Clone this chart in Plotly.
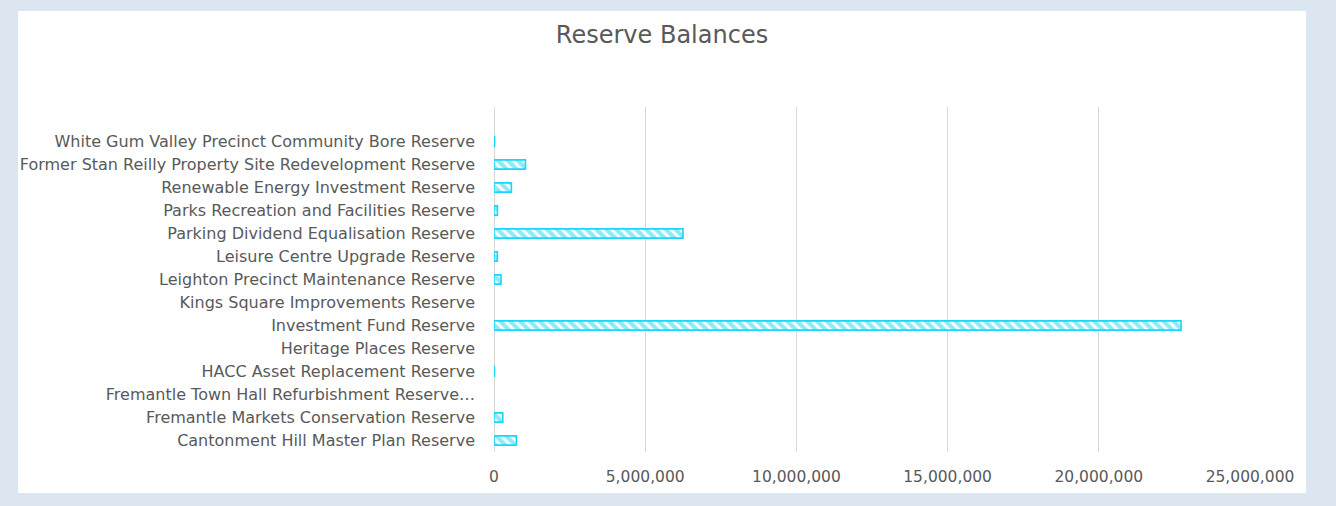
import plotly.graph_objects as go

# Reserve names, listed bottom to top as they appear on the category axis
reserves = [
    "Cantonment Hill Master Plan Reserve",
    "Fremantle Markets Conservation Reserve",
    "Fremantle Town Hall Refurbishment Reserve…",
    "HACC Asset Replacement Reserve",
    "Heritage Places Reserve",
    "Investment Fund Reserve",
    "Kings Square Improvements Reserve",
    "Leighton Precinct Maintenance Reserve",
    "Leisure Centre Upgrade Reserve",
    "Parking Dividend Equalisation Reserve",
    "Parks Recreation and Facilities Reserve",
    "Renewable Energy Investment Reserve",
    "Former Stan Reilly Property Site Redevelopment Reserve",
    "White Gum Valley Precinct Community Bore Reserve",
]

# Closing balances ($); None where a reserve has no balance shown
balances = [
    740000,
    290000,
    None,
    15000,
    None,
    22720000,
    None,
    230000,
    110000,
    6250000,
    112000,
    575000,
    1040000,
    20000,
]

x_ticks = [0, 5000000, 10000000, 15000000, 20000000, 25000000]
x_tick_text = ["0", "5,000,000", "10,000,000", "15,000,000", "20,000,000", "25,000,000"]

W, H = 1336, 506
ML, MR, MT, MB = 494, 86, 107, 54
PW, PH = W - ML - MR, H - MT - MB

CYAN = "#1ad6f8"
TEXT = "#595959"
FONT = "DejaVu Sans"

fig = go.Figure(
    go.Bar(
        x=balances,
        y=reserves,
        orientation="h",
        width=0.4,
        marker=dict(
            color="white",
            line=dict(color=CYAN, width=1.6),
            pattern=dict(shape="\\", fgcolor=CYAN, bgcolor="white", size=7, solidity=0.6),
        ),
        hovertemplate="%{y}: %{x:,}<extra></extra>",
    )
)


def px_to_paper_x(px):
    return (px - ML) / PW


def px_to_paper_y(py):
    return (H - MB - py) / PH


# White chart panel sitting on the pale blue page
fig.add_shape(
    type="rect",
    xref="paper",
    yref="paper",
    x0=px_to_paper_x(18),
    x1=px_to_paper_x(1306),
    y0=px_to_paper_y(493),
    y1=px_to_paper_y(11),
    fillcolor="white",
    line=dict(width=0),
    layer="below",
)

fig.update_layout(
    width=W,
    height=H,
    margin=dict(l=ML, r=MR, t=MT, b=MB, pad=0),
    paper_bgcolor="#dce6f1",
    plot_bgcolor="rgba(0,0,0,0)",
    showlegend=False,
    font=dict(family=FONT, color=TEXT, size=16),
    title=dict(
        text="Reserve Balances",
        x=(662 / W),
        xanchor="center",
        y=1 - 35 / H,
        yanchor="middle",
        font=dict(family=FONT, size=24, color=TEXT),
    ),
    xaxis=dict(
        range=[0, 25000000],
        tickvals=x_ticks,
        ticktext=x_tick_text,
        showgrid=True,
        gridcolor="#d9d9d9",
        gridwidth=1,
        zeroline=True,
        zerolinecolor="#d9d9d9",
        zerolinewidth=1,
        showline=False,
        ticks="",
        ticklabelstandoff=13,
        tickfont=dict(family=FONT, size=15.5, color=TEXT),
    ),
    yaxis=dict(
        type="category",
        categoryorder="array",
        categoryarray=reserves,
        range=[-0.5, len(reserves) + 0.5],
        showgrid=False,
        zeroline=False,
        showline=False,
        ticks="",
        ticklabelstandoff=18,
        tickfont=dict(family=FONT, size=16, color=TEXT),
    ),
)

fig.write_html("out.html")
